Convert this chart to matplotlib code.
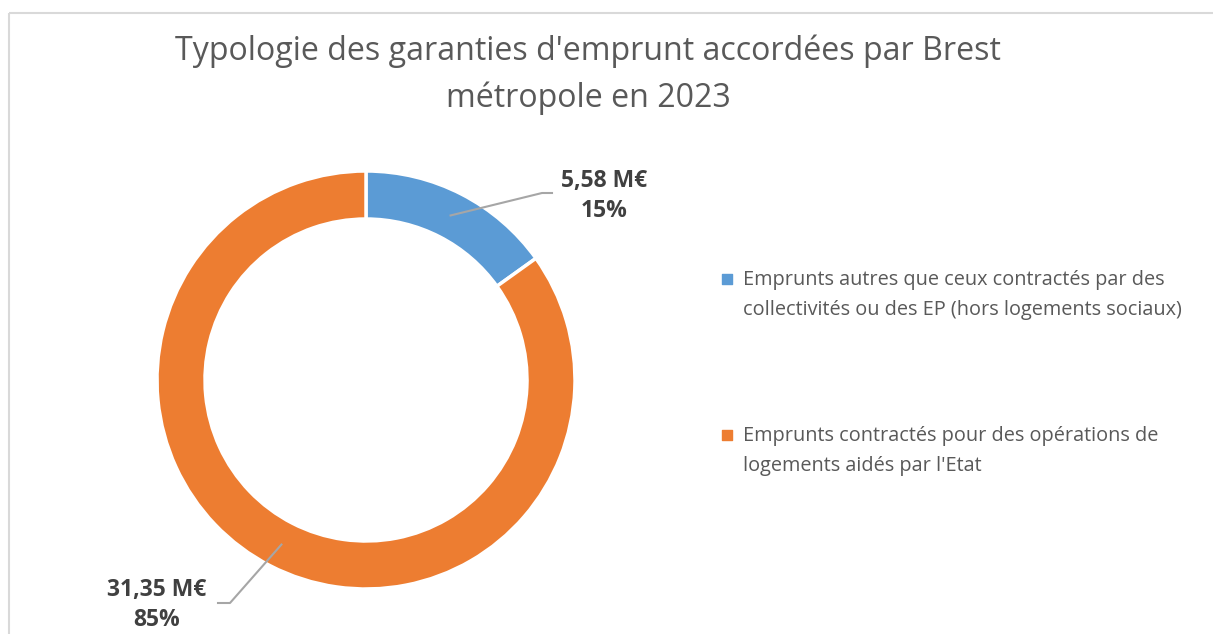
import numpy as np
import matplotlib
matplotlib.use('Agg')
import matplotlib.pyplot as plt

plt.rcParams['font.family'] = ['Open Sans', 'DejaVu Sans']

# data
categories = ["Emprunts autres que ceux contractés par des\ncollectivités ou des EP (hors logements sociaux)",
              "Emprunts contractés pour des opérations de\nlogements aidés par l'Etat"]
amounts = [5.58, 31.35]
amount_labels = ['5,58 M€', '31,35 M€']
pct_labels = ['15%', '85%']
colors = ['#5B9BD5', '#ED7D31']

W, H = 1213, 634
fig = plt.figure(figsize=(W / 100, H / 100), dpi=100)
ax = fig.add_axes([0, 0, 1, 1])

# chart frame (only top and left visible)
ax.plot([8.5, W], [H - 12.5, H - 12.5], color='#D9D9D9', lw=1.5, solid_capstyle='butt')
ax.plot([8.5, 8.5], [H - 12.5, 0], color='#D9D9D9', lw=1.5, solid_capstyle='butt')

cx, cy, R = 366, H - 380, 209
ring = 48
wedges, _ = ax.pie(amounts, colors=colors, startangle=90, counterclock=False,
                   center=(cx, cy), radius=R, frame=True,
                   wedgeprops=dict(width=ring, edgecolor='white', linewidth=2.5))
ax.set_xlim(0, W)
ax.set_ylim(0, H)
ax.set_aspect('equal')
ax.axis('off')

ax.text(588, H - 51, "Typologie des garanties d'emprunt accordées par Brest",
        ha='center', va='center', fontsize=23.1, color='#595959')
ax.text(588, H - 98, "métropole en 2023",
        ha='center', va='center', fontsize=23.1, color='#595959')

# data labels with leader lines
label_pos = [(604, H - 196), (157, H - 605)]
elbow = [(542, H - 193), (230, H - 603)]
end = [(552, H - 193), (218, H - 603)]
rmid = R - ring / 2
for w, amt, pct, lp, el, en in zip(wedges, amount_labels, pct_labels, label_pos, elbow, end):
    a = np.deg2rad((w.theta1 + w.theta2) / 2)
    sx, sy = cx + rmid * np.cos(a), cy + rmid * np.sin(a)
    ax.plot([sx, el[0], en[0]], [sy, el[1], en[1]], color='#A6A6A6', lw=1.5)
    ax.text(lp[0], lp[1] + 15, amt, ha='center', va='center', fontsize=16.5,
            fontweight='bold', color='#404040')
    ax.text(lp[0], lp[1] - 15, pct, ha='center', va='center', fontsize=16.5,
            fontweight='bold', color='#404040')

# legend
leg_y = [H - 295, H - 451]
for c, lab, y in zip(colors, categories, leg_y):
    ax.scatter([727], [y + 16], marker='s', s=55, color=c)
    ax.text(743, y, lab, ha='left', va='center', fontsize=14.3, color='#595959',
            linespacing=1.62)

fig.savefig('out.png', dpi=100)
